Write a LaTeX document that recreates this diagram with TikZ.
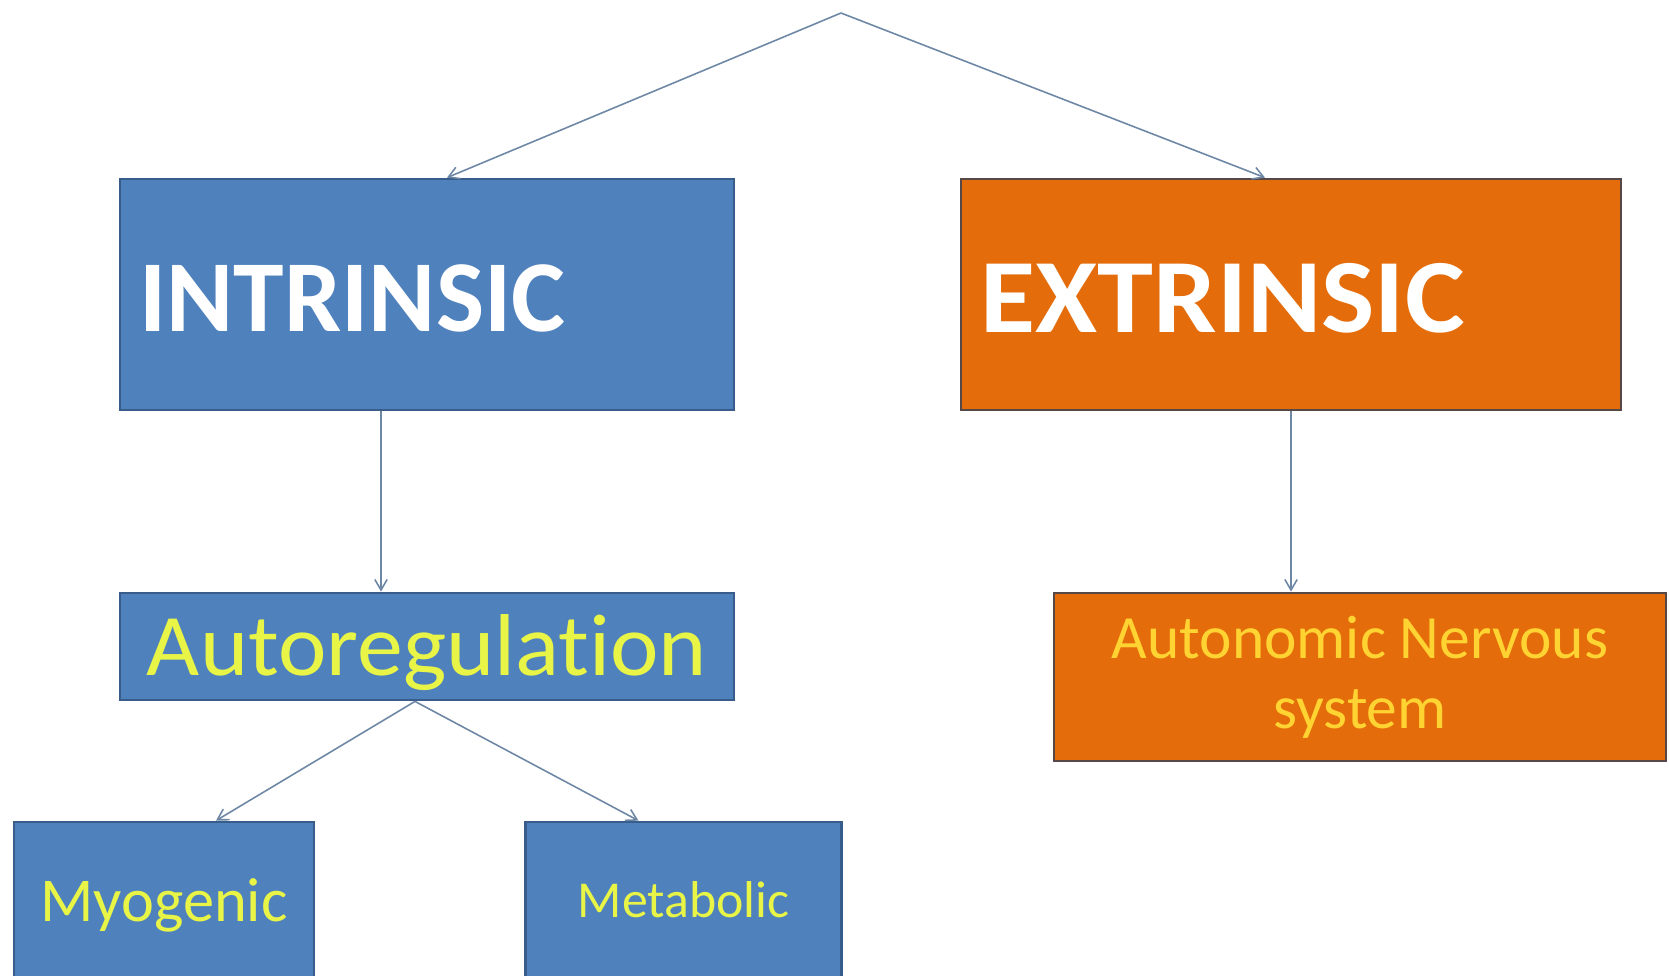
\documentclass[tikz,border=0pt]{standalone}
\usepackage{fontspec}
\setmainfont{Carlito}[Ligatures=NoCommon]
\usetikzlibrary{calc,arrows.meta}
\definecolor{boxblue}{RGB}{79,129,189}
\definecolor{blueline}{RGB}{56,93,138}
\definecolor{boxorange}{RGB}{228,108,10}
\definecolor{orangeline}{RGB}{85,72,70}
\definecolor{linkgray}{RGB}{110,135,165}
\definecolor{txtyellow}{RGB}{232,245,70}
\definecolor{txtgold}{RGB}{255,212,50}
\newcommand{\sinktext}[2]{\raisebox{-#1}[\height][\depth]{#2}}
\begin{document}
\begin{tikzpicture}[x=0.02cm,y=-0.02cm,
    bluebox/.style={draw=blueline,line width=1.6pt,fill=boxblue,inner sep=0pt},
    orangebox/.style={draw=orangeline,line width=1.6pt,fill=boxorange,inner sep=0pt},
    link/.style={draw=linkgray,line width=0.9pt,-{Straight Barb[length=6pt,width=7pt]}}]
    \useasboundingbox (0,0) rectangle (1669,975);
    \coordinate (top) at (841,13);
    \node[bluebox,minimum width=12.28cm,minimum height=4.62cm,text width=11.5cm,align=left,
        text=white,font=\fontsize{58}{60}\selectfont\bfseries] (intr) at (427,294.5) {\sinktext{0.08cm}{INTRINSIC}};
    \node[orangebox,minimum width=13.2cm,minimum height=4.62cm,text width=12.42cm,align=left,
        text=white,font=\fontsize{60}{62}\selectfont\bfseries] (extr) at (1291,294.5) {\sinktext{0.08cm}{\scalebox{1.07}[1]{EXTRINSIC}}};
    \node[bluebox,minimum width=12.28cm,minimum height=2.14cm,
        text=txtyellow,font=\fontsize{50}{52}\selectfont] (auto) at (427,646.5) {\sinktext{0.13cm}{\scalebox{1.045}[1]{Autoregulation}}};
    \node[orangebox,minimum width=12.24cm,minimum height=3.36cm,align=center,
        text=txtgold,font=\fontsize{35}{40}\selectfont] (ans) at (1360,677) {Autonomic Nervous\\system};
    \node[bluebox,minimum width=6cm,minimum height=3.12cm,
        text=txtyellow,font=\fontsize{35.5}{38}\selectfont] (myo) at (164,900) {\sinktext{0.1cm}{Myogenic}};
    \node[bluebox,minimum width=6.32cm,minimum height=3.12cm,
        text=txtyellow,font=\fontsize{29.5}{32}\selectfont] (meta) at (683.5,900) {Metabolic};
    \draw[link] (top) -- ($(intr.north)+(20,0)$);
    \draw[link] (top) -- ($(extr.north)+(-26,0)$);
    \draw[link] ($(intr.south)+(-46,0)$) -- ($(auto.north)+(-46,0)$);
    \draw[link] (extr.south) -- (ans.north -| extr.south);
    \draw[link] ($(auto.south)+(-12,0)$) -- ($(myo.north)+(52,0)$);
    \draw[link] ($(auto.south)+(-12,0)$) -- ($(meta.north)+(-45,0)$);
\end{tikzpicture}
\end{document}
